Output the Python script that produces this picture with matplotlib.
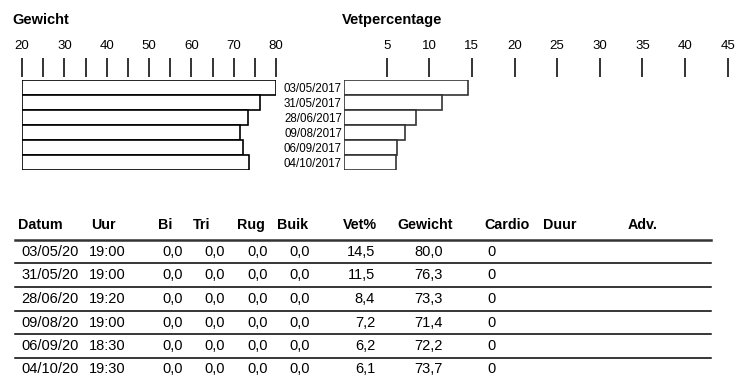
import matplotlib
matplotlib.use("Agg")
import matplotlib.pyplot as plt
from matplotlib.lines import Line2D

plt.rcParams['font.family'] = ['Liberation Sans', 'DejaVu Sans']

# data
datums = ['03/05/2017', '31/05/2017', '28/06/2017', '09/08/2017', '06/09/2017', '04/10/2017']
uren = ['19:00', '19:00', '19:20', '19:00', '18:30', '19:30']
bi = [0.0, 0.0, 0.0, 0.0, 0.0, 0.0]
tri = [0.0, 0.0, 0.0, 0.0, 0.0, 0.0]
rug = [0.0, 0.0, 0.0, 0.0, 0.0, 0.0]
buik = [0.0, 0.0, 0.0, 0.0, 0.0, 0.0]
vet = [14.5, 11.5, 8.4, 7.2, 6.2, 6.1]
gewicht = [80.0, 76.3, 73.3, 71.4, 72.2, 73.7]
cardio = [0, 0, 0, 0, 0, 0]
headers = ['Datum', 'Uur', 'Bi', 'Tri', 'Rug', 'Buik', 'Vet%', 'Gewicht', 'Cardio', 'Duur', 'Adv.']

W, H = 748, 391
fig = plt.figure(figsize=(W / 100, H / 100), dpi=100)


def fx(x):
    return x / W


def fy(y):
    return 1 - y / H


def fmt(v):
    return f"{v:.1f}".replace('.', ',')


ypos = list(range(len(datums)))

# ---- Gewicht balk grafiek
ax1 = fig.add_axes([fx(22), fy(170), (276 - 22) / W, 90 / H])
ax1.barh(ypos, [g - 20 for g in gewicht], left=20, height=1.0,
         color='white', edgecolor='black', linewidth=1.2)
ax1.set_xlim(20, 80)
ax1.set_ylim(len(datums) - 0.5, -0.5)
ax1.set_xticks(range(20, 81, 10))
ax1.set_xticks(range(25, 80, 10), minor=True)
ax1.set_yticks([])

# ---- Vetpercentage balk grafiek
ax2 = fig.add_axes([fx(344), fy(170), 45 * 8.525 / W, 90 / H])
ax2.barh(ypos, vet, height=1.0, color='white', edgecolor='#333333', linewidth=1.2)
ax2.set_xlim(0, 45)
ax2.set_ylim(len(datums) - 0.5, -0.5)
ax2.set_xticks(range(5, 46, 5))
ax2.set_yticks(ypos)
ax2.set_yticklabels(datums, fontsize=8.3)
ax2.tick_params(axis='y', length=0, pad=1.5)

for ax in (ax1, ax2):
    for s in ax.spines.values():
        s.set_visible(False)
    ax.spines['top'].set_position(('outward', 2))
    ax.xaxis.set_ticks_position('top')
    ax.tick_params(axis='x', which='both', direction='out', length=13.7,
                   width=1.4, color='#333333', pad=4.3, labelsize=9.5)

fig.text(fx(12), fy(20), 'Gewicht', fontsize=10.5, fontweight='bold', va='center')
fig.text(fx(341.7), fy(20), 'Vetpercentage', fontsize=10.5, fontweight='bold', va='center')

# ---- tabel
header_x = [18.3, 90.7, 157.7, 193.3, 237, 276.7, 342.7, 397.7, 484, 543, 627.7]
for h, x in zip(headers, header_x):
    fig.text(fx(x), fy(225), h, fontsize=10.3, fontweight='bold', va='center')

line_y = [240, 263.3, 287.3, 311, 334.3, 358.3]
for i, y in enumerate(line_y):
    fig.add_artist(Line2D([fx(15), fx(710.7)], [fy(y), fy(y)],
                          color='#333333' if i == 0 else 'black',
                          linewidth=1.8 if i == 0 else 1.1,
                          transform=fig.transFigure))

row_y = [252.3, 275, 299.3, 322.7, 346, 369.3]
fs = 10.5
for i, y in enumerate(row_y):
    fig.text(fx(21.7), fy(y), datums[i][:8], fontsize=fs, va='center')
    fig.text(fx(89.3), fy(y), uren[i], fontsize=fs, va='center')
    for col, xr in ((bi, 183.3), (tri, 225), (rug, 268.3), (buik, 310),
                    (vet, 375), (gewicht, 442.7)):
        fig.text(fx(xr), fy(y), fmt(col[i]), fontsize=fs, va='center', ha='right')
    fig.text(fx(487), fy(y), str(cardio[i]), fontsize=fs, va='center')

fig.savefig('out.png', dpi=100, facecolor='white')
